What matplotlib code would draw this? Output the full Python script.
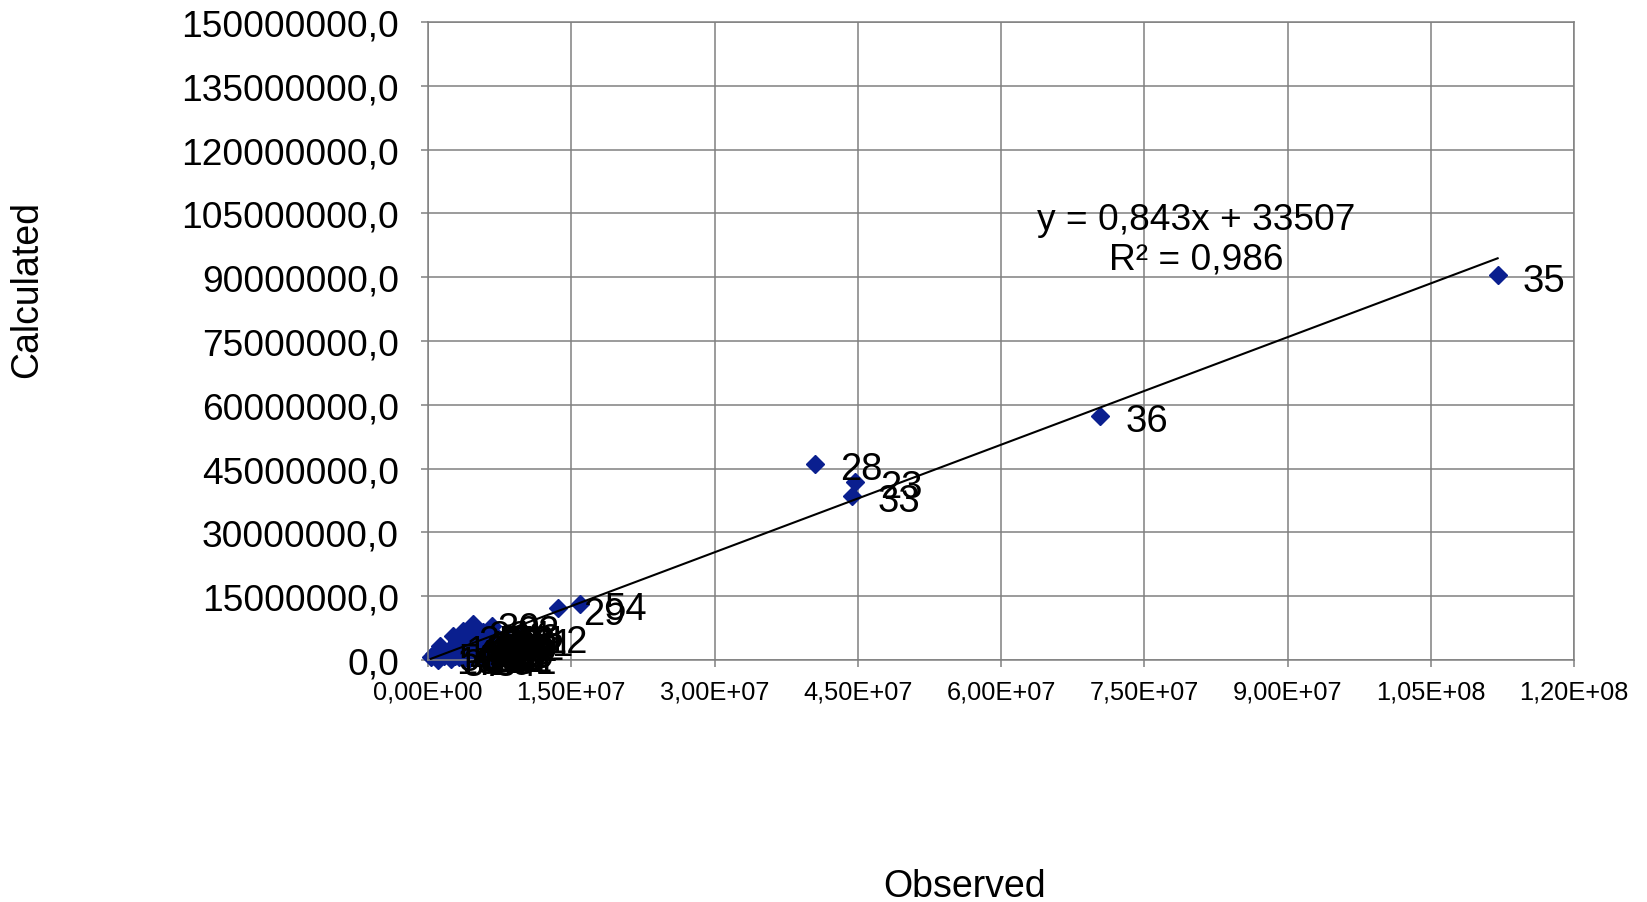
import matplotlib
matplotlib.use("Agg")
import matplotlib.pyplot as plt
import numpy as np
from matplotlib.ticker import FuncFormatter, MultipleLocator

plt.rcParams['font.family'] = ['Liberation Sans', 'DejaVu Sans']

# observed / calculated values (millions), label = position + 1
observed = [5.2, 6.0, 4.1, 6.4, 3.2, 5.6, 2.4, 6.6, 4.8, 3.6,
            6.8, 9.6, 0.3, 1.3, 5.0, 6.3, 2.9, 4.4, 6.2, 3.9,
            8.2, 6.7, 44.7, 5.4, 2.6, 4.6, 6.1, 40.5, 13.6, 4.7,
            3.4, 6.0, 44.4, 4.3, 112.0, 70.4, 1.0, 5.1, 3.7, 6.5,
            2.1, 7.2, 6.9, 5.8, 1.7, 5.9, 3.0, 6.0, 4.0, 0.6,
            6.4, 6.2, 4.9, 15.9, 5.5, 2.8]
calculated = [3.1, 2.4, 1.2, 4.6, 0.6, 4.2, 0.3, 3.0, 2.0, 2.6,
              3.6, 5.6, 0.7, 3.3, 1.0, 5.0, 1.8, 3.8, 2.0, 0.4,
              4.9, 8.0, 41.9, 0.8, 5.6, 4.8, 1.5, 46.1, 12.2, 8.5,
              3.4, 1.1, 38.6, 0.2, 90.5, 57.4, 0.1, 5.4, 6.8, 4.0,
              2.2, 3.9, 6.1, 6.6, 0.9, 2.8, 4.4, 5.5, 1.6, 1.4,
              0.5, 5.6, 2.5, 13.2, 3.6, 1.0]
labels = [str(i + 1) for i in range(len(observed))]

slope = 0.843
intercept = 33507

x = np.array(observed) * 1e6
y = np.array(calculated) * 1e6

fig = plt.figure(figsize=(16.47, 9.03), dpi=100)
ax = fig.add_axes([0.2599, 0.268, 0.6958, 0.7065])

ax.plot(x, y, linestyle='none', marker='D', markersize=9.5,
        color='#0a1f8f', zorder=2, clip_on=False)

xl = np.array([x.min(), x.max()])
ax.plot(xl, slope * xl + intercept, color='black', linewidth=1.5, zorder=3)

for xi, yi, lab in zip(x, y, labels):
    ax.annotate(lab, (xi, yi), xytext=(18, -4), textcoords='offset points',
                ha='left', va='center', fontsize=27.5, zorder=4,
                annotation_clip=False)

ax.text(80.4e6, 99.0e6, "y = 0,843x + 33507\nR² = 0,986", ha='center',
        va='center', fontsize=26.7, linespacing=1.18, zorder=5)

ax.set_xlim(0, 1.2e8)
ax.set_ylim(0, 1.5e8)
ax.xaxis.set_major_locator(MultipleLocator(1.5e7))
ax.yaxis.set_major_locator(MultipleLocator(1.5e7))
ax.xaxis.set_major_formatter(FuncFormatter(lambda v, p: f"{v:.2E}".replace('.', ',')))
ax.yaxis.set_major_formatter(FuncFormatter(lambda v, p: f"{v:.1f}".replace('.', ',')))

ax.grid(True, color='#808080', linewidth=1.1)
ax.set_axisbelow(True)
for s in ax.spines.values():
    s.set_color('#808080')
    s.set_linewidth(1.1)
ax.tick_params(axis='both', colors='#808080', labelcolor='black', length=5, width=1.1)
ax.tick_params(axis='y', labelsize=26.7, pad=16)
ax.tick_params(axis='x', labelsize=18.3, pad=9)

fig.text(27 / 1647, 1 - 290 / 903, "Calculated", rotation=90, ha='center',
         va='center', fontsize=27)
fig.text(965 / 1647, 1 - 887 / 903, "Observed", ha='center', va='center',
         fontsize=27)

fig.savefig("out.png", dpi=100)
